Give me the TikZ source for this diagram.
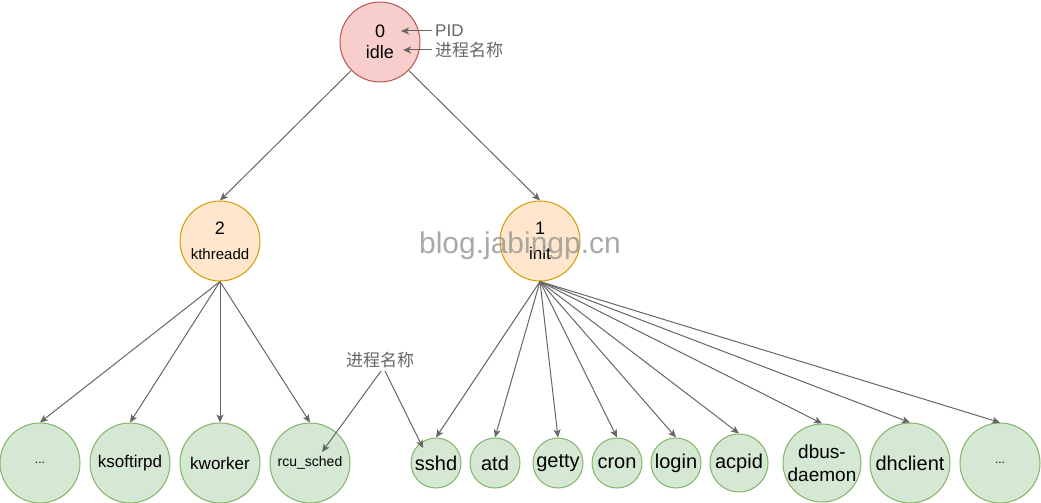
\documentclass[tikz,border=0pt]{standalone}
\usepackage{fontspec}
\setmainfont{Liberation Sans}
\newfontfamily\cjkfont{Noto Sans CJK SC}
\usetikzlibrary{arrows.meta}
\definecolor{RootFill}{HTML}{F8CECC}
\definecolor{RootLine}{HTML}{B85450}
\definecolor{MidFill}{HTML}{FFE6CC}
\definecolor{MidLine}{HTML}{D79B00}
\definecolor{LeafFill}{HTML}{D5E8D4}
\definecolor{LeafLine}{HTML}{82B366}
\definecolor{EdgeClr}{HTML}{666666}
\definecolor{MarkClr}{HTML}{9A9A9A}

\tikzset{
  proc/.style={circle,line width=1pt,inner sep=0pt,align=center,text=black},
  rootproc/.style={proc,fill=RootFill,draw=RootLine,minimum size=80pt},
  midproc/.style={proc,fill=MidFill,draw=MidLine,minimum size=80pt},
  leafproc/.style={proc,fill=LeafFill,draw=LeafLine,minimum size=#1},
  leafproc/.default=80pt,
  big/.style={font=\fontsize{20}{22}\selectfont},
  mid/.style={font=\fontsize{17}{20}\selectfont},
  tiny/.style={font=\fontsize{12}{14}\selectfont},
  edge/.style={draw=EdgeClr,line width=1pt,-{Stealth[length=8pt,width=7pt,inset=2pt]}},
  note/.style={text=EdgeClr,inner sep=3pt,font=\fontsize{17}{20}\selectfont}
}

\begin{document}
\begin{tikzpicture}[x=1pt,y=-1pt]
\useasboundingbox (0,0) rectangle (1041,503);

\node[rootproc,font=\fontsize{18}{20}\selectfont] (idle) at (380,42) {0\\[1pt]idle};
\node[midproc,font=\fontsize{18}{20}\selectfont] (kthreadd) at (220,241) {2\\[5pt]\fontsize{15}{18}\selectfont kthreadd};
\node[midproc,font=\fontsize{18}{20}\selectfont] (init) at (540,241) {1\\[5pt]\fontsize{17}{18}\selectfont init};

\node[leafproc,tiny] (kdots) at (40,463) {...};
\node[leafproc,mid] (ksoftirpd) at (130,463) {ksoftirpd};
\node[leafproc,mid] (kworker) at (220,463) {kworker};
\node[leafproc,font=\fontsize{14}{16}\selectfont] (rcusched) at (310,463) {rcu\_sched};

\node[leafproc=50pt,big] (sshd) at (436,463) {sshd};
\node[leafproc=50pt,big] (atd) at (495,463) {atd};
\node[leafproc=50pt,big] (getty) at (558,463) {getty};
\node[leafproc=50pt,big] (cron) at (617,463) {cron};
\node[leafproc=50pt,big] (login) at (676,463) {login};
\node[leafproc=58pt,big] (acpid) at (739,463) {acpid};
\node[leafproc=78pt,font=\fontsize{19}{23}\selectfont] (dbus) at (822,463) {dbus-\\daemon};
\node[leafproc,big] (dhclient) at (910,463) {dhclient};
\node[leafproc,tiny] (idots) at (1000,463) {...};

\draw[edge] (idle) -- (kthreadd.north);
\draw[edge] (idle) -- (init.north);
\foreach \c in {kdots,ksoftirpd,kworker,rcusched}
  \draw[edge] (kthreadd.south) -- (\c.north);
\foreach \c in {sshd,atd,getty,cron,login,acpid,dbus,dhclient,idots}
  \draw[edge] (init.south) -- (\c.north);

\node[note,anchor=west] (pidlbl) at (432,31) {PID};
\node[note,anchor=west] (namelbl) at (432,50) {\cjkfont 进程名称};
\coordinate (pidpt) at (401,31);
\coordinate (namept) at (403,50);
\draw[edge] (pidlbl.west) -- (pidpt);
\draw[edge] (namelbl.west) -- (namept);

\node[note] (leaflbl) at (380,360) {\cjkfont 进程名称};
\coordinate (rcupt) at (322,452);
\coordinate (sshdpt) at (423,448);
\draw[edge] ([xshift=1pt]leaflbl.south) -- (rcupt);
\draw[edge] ([xshift=5pt]leaflbl.south) -- (sshdpt);

\node[text=MarkClr,opacity=0.85,font=\fontsize{30}{34}\selectfont] (mark) at (520,246) {blog.jabingp.cn};
\end{tikzpicture}
\end{document}
